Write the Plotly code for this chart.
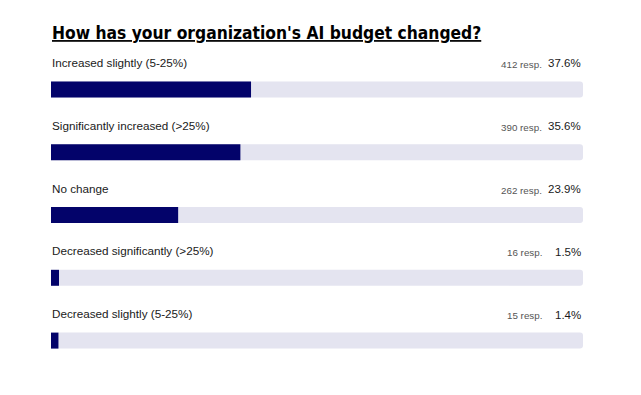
import plotly.graph_objects as go

categories = ["Increased slightly (5-25%)", "Significantly increased (>25%)", "No change",
              "Decreased significantly (>25%)", "Decreased slightly (5-25%)"]
responses = [412, 390, 262, 16, 15]
percents = [37.6, 35.6, 23.9, 1.5, 1.4]
track_max = [100, 100, 100, 100, 100]

idx = list(range(len(categories)))

W, H = 633, 387

fig = go.Figure()
fig.add_trace(go.Bar(x=track_max, y=idx, orientation="h", width=0.254,
                     marker=dict(color="#e4e4f0", line=dict(width=0)),
                     hoverinfo="skip", showlegend=False))
fig.add_trace(go.Bar(x=percents, y=idx, orientation="h", width=0.254,
                     marker=dict(color="#03036a", line=dict(width=0)),
                     customdata=categories,
                     hovertemplate="%{customdata}: %{x}%<extra></extra>", showlegend=False))

ann = []
for i, (c, r, p) in enumerate(zip(categories, responses, percents)):
    ann.append(dict(x=0, y=i, xref="x", yref="y", text=c, showarrow=False,
                    xanchor="left", yanchor="middle", yshift=27, xshift=-1,
                    font=dict(family="Liberation Sans, Arial", size=11.7, color="#1a1a1a")))
    ann.append(dict(x=100, y=i, xref="x", yref="y", text=f"{p}%", showarrow=False,
                    xanchor="right", yanchor="middle", yshift=26,
                    font=dict(family="Liberation Sans, Arial", size=11.5, color="#1a1a1a")))
    ann.append(dict(x=100, y=i, xref="x", yref="y", text=f"{r} resp.", showarrow=False,
                    xanchor="right", yanchor="middle", yshift=25, xshift=-39,
                    font=dict(family="Liberation Sans, Arial", size=9.8, color="#555555")))

fig.update_layout(
    width=W, height=H,
    margin=dict(l=43, r=58, t=49.5, b=22.5),
    paper_bgcolor="white", plot_bgcolor="white",
    barmode="overlay", barcornerradius=3,
    title=dict(text="How has your organization's AI budget changed?",
               x=44/W, xanchor="left", xref="container",
               y=1-25/H, yanchor="middle", yref="container",
               font=dict(family="DejaVu Sans Condensed", size=17.3, color="#000000",
                         weight="bold", lineposition="under")),
    xaxis=dict(range=[0, 100], visible=False, fixedrange=True),
    yaxis=dict(range=[4.5, -0.5], visible=False, fixedrange=True),
    annotations=ann,
)

fig.write_html("out.html")
